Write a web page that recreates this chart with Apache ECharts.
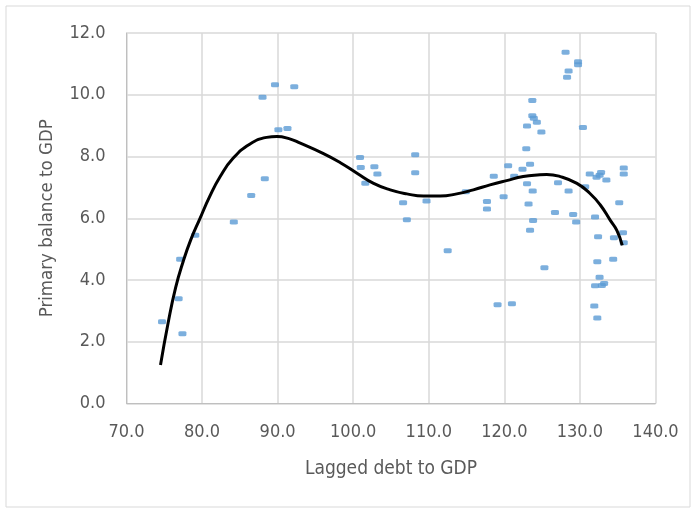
<!DOCTYPE html>
<html>
<head>
<meta charset="utf-8">
<script src="https://cdn.jsdelivr.net/npm/echarts@6/dist/echarts.min.js"></script>
<style>
  html, body { margin: 0; padding: 0; background: #fff; }
  #chart { width: 700px; height: 513px; }
</style>
</head>
<body>
<div id="chart"></div>
<script>
// observed points: [lagged debt, primary balance]
const points = [
  [74.7, 2.65], [76.9, 3.39], [77.1, 4.67], [77.4, 2.26], [79.1, 5.45], [84.2, 5.88],
  [86.5, 6.74], [88.0, 9.92], [88.3, 7.28], [89.65, 10.32], [90.1, 8.87], [91.3, 8.91], [92.2, 10.26],
  [100.9, 7.97], [101.0, 7.64], [101.6, 7.13], [102.8, 7.67], [103.2, 7.43], [106.6, 6.50],
  [107.1, 5.95], [108.2, 8.06], [108.2, 7.47], [109.7, 6.56], [112.5, 4.95], [114.9, 6.86],
  [117.7, 6.54], [117.7, 6.30], [118.6, 7.36], [119.1, 3.20], [119.9, 6.70], [120.5, 7.70],
  [121.0, 3.23], [121.3, 7.36], [122.4, 7.59], [122.9, 8.25], [123.0, 8.99], [123.0, 7.12],
  [123.2, 6.46], [123.4, 7.75], [123.4, 5.61], [123.7, 9.81], [123.7, 9.32], [123.9, 9.24],
  [124.3, 9.11], [123.75, 6.88], [123.8, 5.93], [124.9, 8.79], [125.3, 4.40], [126.7, 6.19],
  [127.1, 7.15], [128.1, 11.38], [128.3, 10.57], [128.5, 10.77], [128.5, 6.88], [129.1, 6.12],
  [129.5, 5.88], [129.75, 11.07], [129.75, 10.97], [130.4, 8.94], [130.7, 7.02], [131.3, 7.43],
  [131.9, 3.16], [132.0, 6.04], [132.0, 3.81], [132.3, 4.59], [132.3, 2.77], [132.4, 5.40],
  [132.2, 7.33], [132.6, 7.39], [132.6, 4.09], [132.8, 7.48], [132.9, 3.82], [133.2, 3.89],
  [133.5, 7.24], [134.4, 4.67], [134.5, 5.37], [135.2, 6.50], [135.7, 5.53], [135.8, 5.21],
  [135.8, 7.63], [135.8, 7.43]
]

// polynomial trend line
const trend = [
  [74.5, 1.25], [75.5, 2.6], [76.5, 3.75], [77.5, 4.6], [78.5, 5.3], [79.7, 5.98],
  [81.0, 6.70], [82.4, 7.35], [84.1, 7.94], [86.3, 8.40], [88.55, 8.62], [89.9, 8.65],
  [91.6, 8.57], [93.0, 8.43], [96.0, 8.10], [98.3, 7.80], [100.5, 7.46], [102.7, 7.13],
  [104.9, 6.92], [107.1, 6.79], [109.3, 6.72], [111.5, 6.72], [113.7, 6.79], [115.9, 6.92],
  [118.1, 7.08], [120.3, 7.22], [122.5, 7.35], [124.7, 7.41], [125.6, 7.42], [127.4, 7.35],
  [129.6, 7.13], [131.3, 6.81], [132.7, 6.43], [134.0, 5.94], [134.9, 5.60], [135.6, 5.12]
]

const xTicks = { min: 70, max: 140, step: 10 }
const yTicks = { min: 0, max: 12, step: 2 }

const font = "'Liberation Sans Narrow', 'DejaVu Sans Condensed', sans-serif"
const textColor = '#595959'

const chart = echarts.init(document.getElementById('chart'))

chart.setOption({
  animation: false,
  graphic: [
    {
      type: 'rect',
      shape: { x: 6, y: 6, width: 684, height: 501 },
      style: { fill: 'none', stroke: '#d9d9d9', lineWidth: 1 },
      silent: true
    }
  ],
  grid: { left: 126.5, right: 44.5, top: 33, bottom: 109.5 },
  xAxis: {
    type: 'value',
    min: xTicks.min,
    max: xTicks.max,
    interval: xTicks.step,
    name: 'Lagged debt to GDP',
    nameLocation: 'middle',
    nameGap: 56,
    nameTextStyle: { color: textColor, fontSize: 19, fontFamily: font },
    axisLine: { show: true, lineStyle: { color: '#bfbfbf', width: 1 } },
    axisTick: { show: false },
    axisLabel: {
      color: textColor, fontSize: 18, fontFamily: font, margin: 20,
      formatter: (v) => v.toFixed(1)
    },
    splitLine: { show: true, lineStyle: { color: '#d9d9d9', width: 1.5 } }
  },
  yAxis: {
    type: 'value',
    min: yTicks.min,
    max: yTicks.max,
    interval: yTicks.step,
    name: 'Primary balance to GDP',
    nameLocation: 'middle',
    nameGap: 70,
    nameTextStyle: { color: textColor, fontSize: 18.5, fontFamily: font },
    axisLine: { show: true, lineStyle: { color: '#bfbfbf', width: 1 } },
    axisTick: { show: false },
    axisLabel: {
      color: textColor, fontSize: 18, fontFamily: font, margin: 21,
      formatter: (v) => v.toFixed(1)
    },
    splitLine: { show: true, lineStyle: { color: '#d9d9d9', width: 1.5 } }
  },
  series: [
    {
      type: 'scatter',
      data: points,
      symbol: 'roundRect',
      symbolSize: [8, 5],
      itemStyle: { color: '#5b9bd5' },
      z: 2
    },
    {
      type: 'line',
      data: trend,
      smooth: 0.5,
      showSymbol: false,
      lineStyle: { color: '#000', width: 3 },
      z: 3
    }
  ]
})
</script>
</body>
</html>
